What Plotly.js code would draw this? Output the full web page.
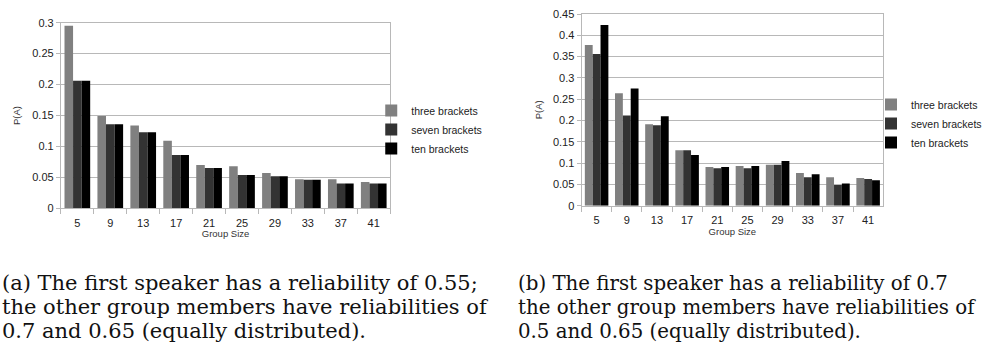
<!DOCTYPE html>
<html>
<head>
<meta charset="utf-8">
<script src="https://cdn.plot.ly/plotly-3.0.1.min.js"></script>
<style>html,body{margin:0;padding:0;background:#fff;}#chart{width:987px;height:354px;}</style>
</head>
<body>
<div id="chart"></div>
<script>
const groupSizes = ['5','9','13','17','21','25','29','33','37','41'];
const seriesNames = ['three brackets','seven brackets','ten brackets'];
const seriesColors = ['#808080','#333333','#000000'];

// (a) first speaker reliability 0.55
const aThree = [0.295,0.149,0.134,0.109,0.070,0.068,0.057,0.047,0.047,0.0425];
const aSeven = [0.206,0.136,0.123,0.086,0.065,0.054,0.052,0.046,0.040,0.040];
const aTen   = [0.206,0.136,0.123,0.086,0.065,0.054,0.052,0.046,0.040,0.040];

// (b) first speaker reliability 0.75
const bThree = [0.377,0.264,0.191,0.130,0.091,0.093,0.096,0.077,0.067,0.065];
const bSeven = [0.356,0.212,0.189,0.130,0.088,0.088,0.096,0.067,0.0485,0.0626];
const bTen   = [0.424,0.275,0.210,0.119,0.091,0.093,0.105,0.074,0.052,0.060];

const captionA = ['(a) The first speaker has a reliability of 0.55;',
                  'the other group members have reliabilities of',
                  '0.7 and 0.65 (equally distributed).'];
const captionB = ['(b) The first speaker has a reliability of 0.7',
                  'the other group members have reliabilities of',
                  '0.5 and 0.65 (equally distributed).'];

const W = 987, H = 354;
const px = v => v / W;
const py = v => 1 - v / H;

const traces = [];
[[aThree,aSeven,aTen],[bThree,bSeven,bTen]].forEach((set, k) => {
  set.forEach((vals, i) => {
    traces.push({
      type: 'bar',
      x: groupSizes,
      y: vals,
      name: seriesNames[i],
      marker: {color: seriesColors[i], line: {width: 0}},
      xaxis: k === 0 ? 'x' : 'x2',
      yaxis: k === 0 ? 'y' : 'y2',
      legend: k === 0 ? 'legend' : 'legend2',
      hoverinfo: 'x+y+name'
    });
  });
});

const gridC = '#b8b8b8';
const fontF = '"Liberation Sans", Arial, sans-serif';
function xax(dom, anchor) {
  return {
    domain: dom, anchor: anchor, type: 'category',
    showline: true, linecolor: gridC, linewidth: 1, mirror: true,
    ticks: 'outside', tickson: 'boundaries', ticklen: 5, tickcolor: gridC,
    ticklabelstandoff: 4,
    tickfont: {family: fontF, size: 11, color: '#222'},
    showgrid: false, zeroline: false,
    title: {text: 'Group Size', font: {family: fontF, size: 9.5, color: '#333'}, standoff: 1},
    automargin: false
  };
}
function yax(dom, anchor, max, so) {
  return {
    domain: dom, anchor: anchor, range: [0, max], dtick: 0.05,
    showline: true, linecolor: gridC, linewidth: 1, mirror: true,
    ticks: 'outside', ticklen: 4, tickcolor: gridC,
    tickfont: {family: fontF, size: 11, color: '#222'},
    showgrid: true, gridcolor: gridC, gridwidth: 1, zeroline: false,
    title: {text: 'P(A)', font: {family: fontF, size: 9.5, color: '#333'}, standoff: so},
    automargin: false
  };
}

const capFontA = {family: '"DejaVu Serif", serif', size: 21, color: '#111'};
const capFontB = {family: '"DejaVu Serif", serif', size: 19.8, color: '#111'};
const lineY = [283, 307, 331];
const annotations = [];
lineY.forEach((yy, i) => {
  annotations.push({text: captionA[i], xref: 'paper', yref: 'paper', x: 0, y: py(yy),
    xanchor: 'left', yanchor: 'middle', align: 'left', showarrow: false, font: capFontA});
  annotations.push({text: captionB[i], xref: 'paper', yref: 'paper', x: px(517), y: py(yy),
    xanchor: 'left', yanchor: 'middle', align: 'left', showarrow: false, font: capFontB});
});

const layout = {
  width: W, height: H,
  margin: {l: 0, r: 0, t: 0, b: 0},
  paper_bgcolor: '#fff', plot_bgcolor: '#fff',
  barmode: 'group', bargap: 0.22, bargroupgap: 0,
  font: {family: fontF, size: 10, color: '#222'},
  xaxis: xax([px(61), px(391)], 'y'),
  yaxis: yax([py(208.3), py(22.7)], 'x', 0.3, 9),
  xaxis2: xax([px(582.7), px(885)], 'y2'),
  yaxis2: yax([py(205.7), py(14)], 'x2', 0.45, 8),
  legend: {x: px(372), y: py(96), xanchor: 'left', yanchor: 'top',
    font: {family: fontF, size: 10.5, color: '#222'}, bgcolor: 'rgba(0,0,0,0)', tracegroupgap: 0},
  legend2: {x: px(873), y: py(90), xanchor: 'left', yanchor: 'top',
    font: {family: fontF, size: 10.5, color: '#222'}, bgcolor: 'rgba(0,0,0,0)', tracegroupgap: 0},
  annotations: annotations
};

Plotly.newPlot('chart', traces, layout, {displayModeBar: false, staticPlot: true});
</script>
</body>
</html>
